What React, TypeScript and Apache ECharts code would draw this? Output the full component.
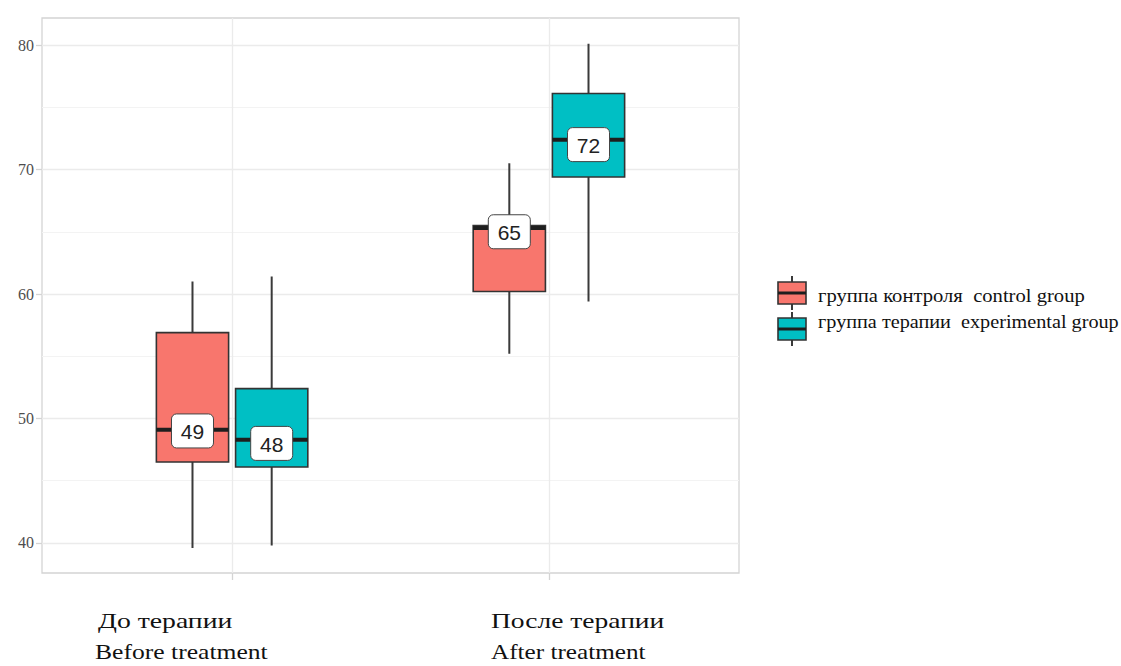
import React, { useEffect, useRef } from "react";
import * as echarts from "echarts";

const categoriesRu = ["До терапии", "После терапии"];
const categoriesEn = ["Before treatment", "After treatment"];
const groupNames = ["группа контроля  control group", "группа терапии  experimental group"];
const groupColors = ["#F8766D", "#00BFC4"];
// [low, q1, median, q3, high] per category
const controlStats = [
  [39.6, 46.5, 49.1, 56.9, 61.0],
  [55.2, 60.2, 65.3, 65.5, 70.5],
];
const experimentalStats = [
  [39.8, 46.1, 48.3, 52.4, 61.4],
  [59.4, 69.4, 72.4, 76.1, 80.1],
];
const controlLabels = [49, 65];
const experimentalLabels = [48, 72];
const yTicks = [40, 50, 60, 70, 80];
const yMinor = [45, 55, 65, 75];
const xTicks = [1, 2];

const DODGE = 0.125;
const HALF_W = 0.114;

function buildData(stats: number[][], labels: number[], offset: number) {
  return stats.map((s, i) => [i + 1 + offset, ...s, labels[i]]);
}

function makeRender(color: string) {
  return (params: any, api: any) => {
    const x = api.value(0);
    const low = api.value(1);
    const q1 = api.value(2);
    const med = api.value(3);
    const q3 = api.value(4);
    const high = api.value(5);
    const lab = api.value(6);
    const pLow = api.coord([x, low]);
    const pHigh = api.coord([x, high]);
    const pQ1L = api.coord([x - HALF_W, q1]);
    const pQ3R = api.coord([x + HALF_W, q3]);
    const pMedL = api.coord([x - HALF_W, med]);
    const pMedR = api.coord([x + HALF_W, med]);
    const pLab = api.coord([x, lab]);
    const bw = 42;
    const bh = 34;
    return {
      type: "group",
      children: [
        {
          type: "line",
          shape: { x1: pLow[0], y1: pLow[1], x2: pHigh[0], y2: pHigh[1] },
          style: { stroke: "#3a3a3a", lineWidth: 2 },
        },
        {
          type: "rect",
          shape: {
            x: pQ1L[0],
            y: pQ3R[1],
            width: pQ3R[0] - pQ1L[0],
            height: pQ1L[1] - pQ3R[1],
          },
          style: { fill: color, stroke: "#333333", lineWidth: 1.6 },
        },
        {
          type: "line",
          shape: { x1: pMedL[0], y1: pMedL[1], x2: pMedR[0], y2: pMedR[1] },
          style: { stroke: "#1e1e1e", lineWidth: 4 },
        },
        {
          type: "rect",
          shape: { x: pLab[0] - bw / 2, y: pLab[1] - bh / 2, width: bw, height: bh, r: 5 },
          style: { fill: "#ffffff", stroke: "#444444", lineWidth: 1 },
        },
        {
          type: "text",
          x: pLab[0],
          y: pLab[1] + 1,
          style: {
            text: String(lab),
            fill: "#222222",
            fontSize: 21,
            fontFamily: "Liberation Sans, Arial, sans-serif",
            align: "center",
            verticalAlign: "middle",
          },
        },
      ],
    };
  };
}

function legendIcon(x: number, y: number, color: string) {
  const w = 28;
  const h = 22;
  const cx = x + w / 2;
  return [
    { type: "line", shape: { x1: cx, y1: y - 6, x2: cx, y2: y + h + 6 }, style: { stroke: "#3a3a3a", lineWidth: 2 } },
    { type: "rect", shape: { x, y, width: w, height: h }, style: { fill: color, stroke: "#333333", lineWidth: 1.6 } },
    { type: "line", shape: { x1: x, y1: y + h / 2, x2: x + w, y2: y + h / 2 }, style: { stroke: "#1e1e1e", lineWidth: 3 } },
  ];
}

export default function App() {
  const ref = useRef<HTMLDivElement>(null);
  useEffect(() => {
    if (!ref.current) return;
    const chart = echarts.init(ref.current, undefined, { renderer: "svg" });
    const yMin = 37.59;
    const yMax = 82.17;
    const serif = "Liberation Serif, Times New Roman, serif";
    const catText = (text: string, x: number, y: number, sx: number) => ({
      type: "text",
      x,
      y,
      scaleX: sx,
      style: { text, font: `21px ${serif}`, fill: "#111111", verticalAlign: "middle" },
    });
    const option: any = {
      animation: false,
      backgroundColor: "#ffffff",
      grid: {
        left: 42,
        top: 18,
        right: 382,
        bottom: 93,
        show: true,
        borderColor: "#d4d4d4",
        borderWidth: 1.3,
        backgroundColor: "#ffffff",
      },
      xAxis: {
        type: "value",
        min: 0.4,
        max: 2.6,
        axisLine: { show: false },
        axisTick: { show: true, customValues: xTicks, length: 7, lineStyle: { color: "#d4d4d4", width: 1.3 } },
        axisLabel: { show: false, customValues: xTicks },
        splitLine: { show: true, lineStyle: { color: "#ebebeb", width: 1.3 } },
      },
      yAxis: [
        {
          type: "value",
          min: yMin,
          max: yMax,
          axisLine: { show: false },
          axisTick: { show: true, customValues: yTicks, length: 6, lineStyle: { color: "#d4d4d4", width: 1.3 } },
          axisLabel: {
            customValues: yTicks,
            color: "#4d4d4d",
            fontFamily: serif,
            fontSize: 16,
            margin: 8,
          },
          splitLine: { show: true, lineStyle: { color: "#ebebeb", width: 1.3 } },
        },
        {
          type: "value",
          min: yMin,
          max: yMax,
          position: "left",
          axisLine: { show: false },
          axisTick: { show: false, customValues: yMinor },
          axisLabel: { show: false, customValues: yMinor },
          splitLine: { show: true, lineStyle: { color: "#f3f3f3", width: 1.2 } },
        },
      ],
      series: [
        {
          name: groupNames[0],
          type: "custom",
          renderItem: makeRender(groupColors[0]),
          data: buildData(controlStats, controlLabels, -DODGE),
          encode: { x: 0, y: [1, 2, 3, 4, 5] },
          z: 5,
        },
        {
          name: groupNames[1],
          type: "custom",
          renderItem: makeRender(groupColors[1]),
          data: buildData(experimentalStats, experimentalLabels, DODGE),
          encode: { x: 0, y: [1, 2, 3, 4, 5] },
          z: 5,
        },
      ],
      graphic: [
        catText(categoriesRu[0], 98, 621, 1.32),
        catText(categoriesEn[0], 95, 652, 1.22),
        catText(categoriesRu[1], 491, 621, 1.31),
        catText(categoriesEn[1], 491, 652, 1.2),
        ...legendIcon(778, 282, groupColors[0]),
        ...legendIcon(778, 318, groupColors[1]),
        { type: "text", x: 818, y: 296, scaleX: 1.146, style: { text: groupNames[0], font: `18px ${serif}`, fill: "#111111", verticalAlign: "middle" } },
        { type: "text", x: 818, y: 322, scaleX: 1.124, style: { text: groupNames[1], font: `18px ${serif}`, fill: "#111111", verticalAlign: "middle" } },
      ],
    };
    chart.setOption(option);
    return () => chart.dispose();
  }, []);
  return (
    <div
      ref={ref}
      style={{ position: "fixed", left: 0, top: 0, width: 1121, height: 666 }}
    />
  );
}
